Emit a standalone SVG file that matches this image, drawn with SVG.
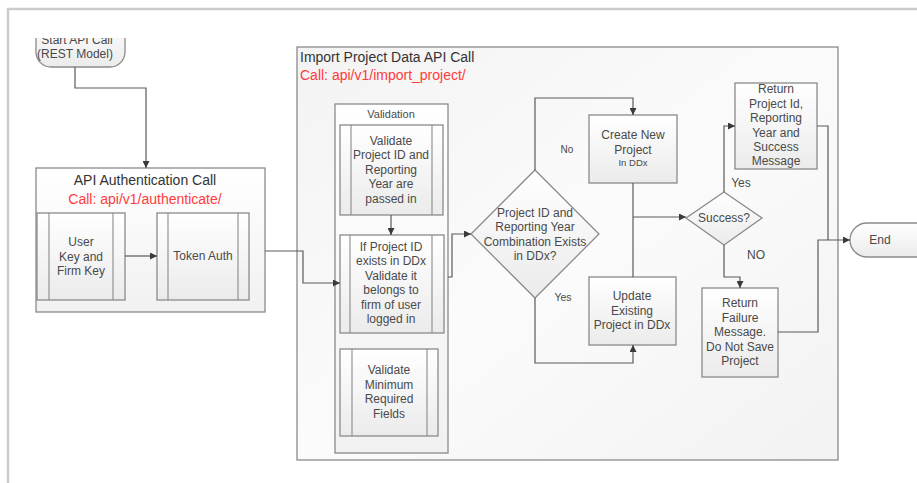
<svg xmlns="http://www.w3.org/2000/svg" width="917" height="483" viewBox="0 0 917 483">
<defs>
  <linearGradient id="boxg" x1="0" y1="0" x2="0" y2="1">
    <stop offset="0" stop-color="#ffffff"/>
    <stop offset="1" stop-color="#ebebeb"/>
  </linearGradient>
  <linearGradient id="contg" x1="0" y1="0" x2="0" y2="1">
    <stop offset="0" stop-color="#ffffff"/>
    <stop offset="1" stop-color="#f1f1f1"/>
  </linearGradient>
  <linearGradient id="impg" x1="0" y1="0" x2="1" y2="1">
    <stop offset="0" stop-color="#f3f3f3"/>
    <stop offset="0.5" stop-color="#fbfbfb"/>
    <stop offset="1" stop-color="#f2f2f2"/>
  </linearGradient>
  <clipPath id="clipStart"><rect x="0" y="38" width="200" height="60"/></clipPath>
  <marker id="arr" viewBox="0 0 10 10" refX="10" refY="5" markerWidth="7" markerHeight="7" orient="auto" markerUnits="userSpaceOnUse">
    <path d="M0,0 L10,5 L0,10 Z" fill="#3a3a3a"/>
  </marker>
</defs>
<style>
  .box { fill: url(#boxg); stroke: #8a8a8a; stroke-width: 1.3; }
  .inner { stroke: #8a8a8a; stroke-width: 1.1; fill: none; }
  .cont { stroke: #8a8a8a; stroke-width: 1.3; }
  .conn path { fill: none; stroke: #5a5a5a; stroke-width: 1.2; }
  .arrow { marker-end: url(#arr); }
  text { font-family: "Liberation Sans", Arial, sans-serif; fill: #4a4a4a; }
  .t12 { font-size: 12px; text-anchor: middle; }
  .title { font-size: 14px; fill: #333333; }
  .red { font-size: 14px; fill: #ff3b3b; }
  .lbl { font-size: 11px; text-anchor: middle; }
</style>
<rect x="0" y="0" width="917" height="483" fill="#ffffff"/>
<!-- page frame -->
<path d="M8,483 V9 H917" fill="none" stroke="#cccccc" stroke-width="2.5"/>

<!-- Import container -->
<g id="import-container">
  <rect x="297" y="47" width="541" height="413" fill="url(#impg)" class="cont"/>
  <text x="300" y="62" class="title">Import Project Data API Call</text>
  <text x="300" y="80" class="red">Call: api/v1/import_project/</text>
</g>

<!-- Auth container -->
<g id="auth-container">
  <rect x="36" y="168" width="229" height="144" fill="url(#contg)" class="cont"/>
  <text x="145" y="185" class="title" text-anchor="middle">API Authentication Call</text>
  <text x="145" y="204" class="red" text-anchor="middle">Call: api/v1/authenticate/</text>
</g>

<!-- Validation container -->
<g id="validation-container">
  <rect x="335" y="104" width="113" height="349" fill="url(#contg)" class="cont"/>
  <text x="391" y="118" class="lbl">Validation</text>
</g>

<!-- Start -->
<g id="start" clip-path="url(#clipStart)">
  <rect x="36" y="18" width="89" height="49" rx="15" ry="15" class="box"/>
  <text x="77" y="44" class="t12">Start API Call</text>
  <text x="75" y="58" class="t12">(REST Model)</text>
</g>

<g id="user-key">
  <rect x="37" y="213" width="88" height="87" class="box"/>
  <path d="M49,213 V300 M113,213 V300" class="inner"/>
  <text class="t12"><tspan x="81" y="246">User</tspan><tspan x="81" y="261">Key and</tspan><tspan x="81" y="275">Firm Key</tspan></text>
</g>

<g id="token-auth">
  <rect x="157" y="213" width="92" height="87" class="box"/>
  <path d="M168,213 V300 M238,213 V300" class="inner"/>
  <text x="203" y="260" class="t12">Token Auth</text>
</g>

<g id="validate-passed">
  <rect x="340" y="125" width="103" height="90" class="box"/>
  <path d="M351,125 V215 M432,125 V215" class="inner"/>
  <text class="t12"><tspan x="391" y="145">Validate</tspan><tspan x="391" y="159">Project ID and</tspan><tspan x="391" y="174">Reporting</tspan><tspan x="391" y="188">Year are</tspan><tspan x="391" y="203">passed in</tspan></text>
</g>

<g id="validate-firm">
  <rect x="340" y="235" width="104" height="98" class="box"/>
  <path d="M350,235 V333 M432,235 V333" class="inner"/>
  <text class="t12"><tspan x="391" y="251">If Project ID</tspan><tspan x="391" y="265">exists in DDx</tspan><tspan x="391" y="280">Validate it</tspan><tspan x="391" y="294">belongs to</tspan><tspan x="391" y="309">firm of user</tspan><tspan x="391" y="323">logged in</tspan></text>
</g>

<g id="validate-fields">
  <rect x="340" y="349" width="98" height="87" class="box"/>
  <path d="M352,349 V436 M427,349 V436" class="inner"/>
  <text class="t12"><tspan x="389" y="374">Validate</tspan><tspan x="389" y="389">Minimum</tspan><tspan x="389" y="403">Required</tspan><tspan x="389" y="418">Fields</tspan></text>
</g>

<g id="decision-exists">
  <path d="M535,170 L599,234 L535,298 L471,234 Z" class="box"/>
  <text class="t12"><tspan x="535" y="217">Project ID and</tspan><tspan x="535" y="231">Reporting Year</tspan><tspan x="535" y="246">Combination Exists</tspan><tspan x="535" y="260">in DDx?</tspan></text>
</g>

<g id="create-project">
  <rect x="589" y="115" width="88" height="68" class="box"/>
  <text class="t12"><tspan x="633" y="139">Create New</tspan><tspan x="633" y="154">Project</tspan></text>
  <text x="633" y="166" class="t12" style="font-size:9.5px">In DDx</text>
</g>

<g id="update-project">
  <rect x="589" y="277" width="87" height="68" class="box"/>
  <text class="t12"><tspan x="632" y="300">Update</tspan><tspan x="632" y="315">Existing</tspan><tspan x="632" y="329">Project in DDx</tspan></text>
</g>

<g id="decision-success">
  <path d="M724,192 L762,218 L724,245 L686,218 Z" class="box"/>
  <text x="724" y="222" class="t12">Success?</text>
</g>

<g id="return-success">
  <rect x="735" y="83" width="82" height="86" class="box"/>
  <text class="t12"><tspan x="776" y="93">Return</tspan><tspan x="776" y="108">Project Id,</tspan><tspan x="776" y="122">Reporting</tspan><tspan x="776" y="137">Year and</tspan><tspan x="776" y="151">Success</tspan><tspan x="776" y="165">Message</tspan></text>
</g>

<g id="return-failure">
  <rect x="702" y="288" width="76" height="89" class="box"/>
  <text class="t12"><tspan x="740" y="307">Return</tspan><tspan x="740" y="322">Failure</tspan><tspan x="740" y="336">Message.</tspan><tspan x="740" y="351">Do Not Save</tspan><tspan x="740" y="365">Project</tspan></text>
</g>

<g id="end">
  <path d="M917,223 H867 A17,17 0 0 0 867,257 H917" class="box"/>
  <text x="880" y="244" class="t12">End</text>
</g>

<!-- connectors -->
<g id="connectors" class="conn">
  <path d="M75,67 V88 H146 V168" class="arrow"/>
  <path d="M125,256 H157" class="arrow"/>
  <path d="M265,251 H303 V283 H340" class="arrow"/>
  <path d="M391,215 V235" class="arrow"/>
  <path d="M448,277 H452 V234 H471" class="arrow"/>
  <path d="M535,170 V98 H633 V115" class="arrow"/>
  <path d="M535,298 V363 H633 V345" class="arrow"/>
  <path d="M633,183 V277"/>
  <path d="M633,217 H686" class="arrow"/>
  <path d="M724,192 V126 H735" class="arrow"/>
  <path d="M724,245 V277 H740 V288" class="arrow"/>
  <path d="M817,126 H828 V240"/>
  <path d="M778,332 H818 V240 H850" class="arrow"/>
</g>
<g id="connector-labels">
  <text x="567" y="153" class="lbl" style="font-size:10px">No</text>
  <text x="563" y="301" class="lbl" style="font-size:10.5px">Yes</text>
  <text x="741" y="187" class="lbl" style="font-size:12px">Yes</text>
  <text x="756" y="259" class="lbl" style="font-size:12px">NO</text>
</g>
</svg>
